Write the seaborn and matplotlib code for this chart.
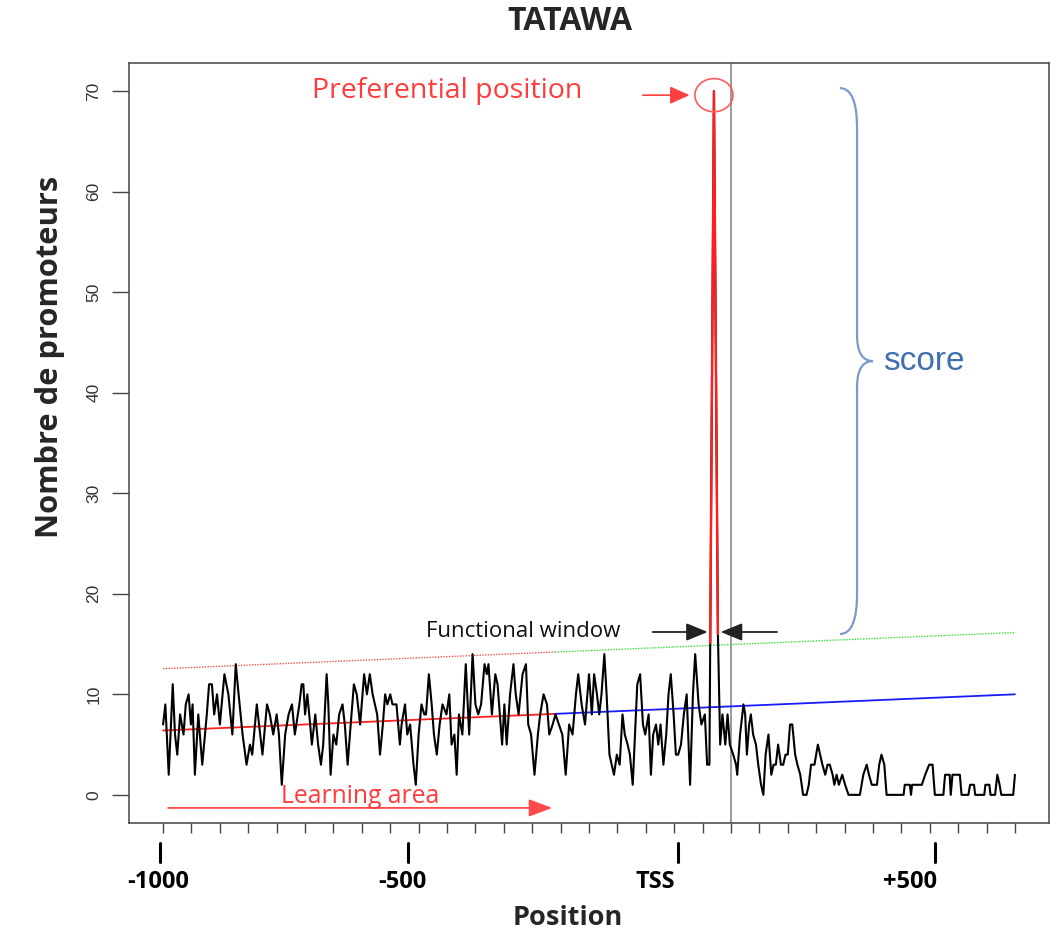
import numpy as np
import pandas as pd
import matplotlib
matplotlib.use("Agg")
import matplotlib.pyplot as plt
import seaborn as sns
from matplotlib import transforms
from matplotlib.patches import Ellipse, Rectangle, PathPatch
from matplotlib.path import Path

# Promoter counts per position (relative to the TSS)
positions = [
    -1000, -996, -990, -983, -979, -975, -970, -964, -960, -955, -951, -948, -944, -938, -931,
    -923, -919, -914, -910, -905, -900, -892, -885, -878, -872, -867, -860, -853, -847, -843,
    -835, -829, -825, -817, -812, -806, -800, -796, -791, -785, -779, -773, -768, -760, -756,
    -753, -750, -746, -741, -738, -732, -727, -722, -718, -712, -709, -705, -700, -695, -690,
    -684, -680, -675, -671, -664, -659, -653, -646, -641, -636, -631, -627, -623, -618, -613,
    -609, -605, -600, -596, -589, -583, -580, -574, -570, -565, -559, -555, -550, -545, -540,
    -537, -532, -527, -523, -518, -513, -508, -501, -496,
    -492, -487, -483, -479, -473, -467, -461, -455, -450, -445, -440, -434, -430, -427, -421,
    -415, -411, -407, -403, -399, -395, -389, -383, -379, -374, -367, -361, -357, -352, -346,
    -340, -336, -330, -324, -320, -314, -309, -303, -297, -291, -285, -279, -273, -269, -263,
    -257, -250, -245, -241,
    -236, -232, -228, -223, -219, -214, -210, -206, -201, -196, -191, -187, -182, -178, -173,
    -169, -165, -160, -155, -151, -145, -141, -137, -132, -128, -124, -119, -114, -110, -106,
    -101, -97, -93, -88, -83, -78, -72, -67, -63, -57, -52, -46, -42, -38, -30,
    -23, -19, -15, -10, -6, -2, 4, 9, 11,
    16, 22, 25, 28, 32, 35, 39, 44, 48, 53, 57, 61, 66, 71, 75,
    79, 83, 88, 92, 96, 100, 104, 108, 113, 117, 122, 127, 133, 137, 141,
    147, 153, 157, 161, 166, 170, 174, 179, 182, 186, 190, 196, 201, 207, 213,
    221, 227, 233, 239, 243, 248, 252, 257, 261, 265, 270,
    274, 304, 306, 315, 317, 319, 336, 342, 349, 355, 359, 374, 377, 385, 387,
    390, 403, 406, 418, 421, 428, 430, 446, 448, 455, 457, 465, 467, 469, 473,
    476, 497, 500,
]
counts = [
    7, 9, 2, 11, 6, 4, 8, 6, 9, 10, 7, 9, 2, 8, 3,
    8, 11, 11, 8, 10, 7, 12, 10, 6, 13, 10, 6, 3, 5, 4,
    9, 6, 4, 9, 8, 6, 8, 6, 1, 6, 8, 9, 6, 9, 11,
    11, 8, 10, 7, 5, 8, 5, 3, 5, 12, 9, 2, 6, 5, 8,
    9, 7, 3, 6, 11, 10, 7, 12, 10, 12, 10, 9, 8, 4, 7,
    10, 9, 10, 9, 9, 5, 7, 9, 6, 7, 3, 1, 6, 9, 8,
    8, 12, 9, 6, 4, 7, 9, 8, 10,
    5, 6, 2, 8, 6, 13, 6, 14, 9, 8, 9, 13, 12, 13, 8,
    12, 11, 8, 5, 9, 5, 10, 13, 10, 8, 12, 13, 7, 6, 2,
    6, 8, 10, 9, 6, 7, 8, 7, 6, 2, 7, 6, 10, 12, 9,
    7, 12, 8, 12,
    10, 8, 10, 14, 10, 4, 3, 2, 4, 3, 8, 6, 5, 4, 1,
    6, 11, 12, 7, 6, 8, 2, 6, 7, 5, 7, 3, 6, 10, 12,
    8, 4, 4, 5, 8, 10, 1, 10, 14, 9, 7, 8, 3, 3, 70,
    16, 5, 8, 5, 8, 5, 4, 3, 2,
    6, 9, 8, 4, 7, 8, 6, 5, 3, 1, 0, 4, 6, 2, 3,
    3, 5, 3, 3, 4, 4, 7, 7, 4, 3, 2, 0, 0, 1, 3,
    3, 5, 4, 3, 2, 3, 3, 2, 1, 2, 1, 2, 1, 0, 0,
    0, 0, 2, 3, 2, 1, 1, 1, 3, 4, 3,
    0, 0, 1, 1, 0, 1, 1, 2, 3, 3, 0, 0, 2, 2, 0,
    2, 2, 0, 0, 1, 1, 0, 0, 1, 1, 0, 0, 1, 2, 1,
    0, 0, 2,
]

peak_pos, peak_val = -30, 70          # preferential position
learning_end = -310                   # end of the learning area
trend_start, trend_end = 6.4, 10.0    # fitted background at -1000 and +500
band_offset = 6.15                    # threshold above the fitted background
window = (-36, -23)                   # functional window around the peak
score_low = 16.0                      # lower end of the score brace

mark_pos = [-1005, -569, -93, 359]
mark_label_pos = [-1009, -579, -134, 315]
mark_labels = ["-1000", "-500", "TSS", "+500"]

sns.set_theme(style="white")
plt.rcParams["font.family"] = ["Open Sans", "DejaVu Sans"]

fig = plt.figure(figsize=(10.56, 9.32), dpi=100)
W, H = 1056, 932
ax = fig.add_axes([129 / W, (H - 823) / H, (1049 - 129) / W, (823 - 63) / H])

df = pd.DataFrame({"Position": positions, "Count": counts})
sns.lineplot(data=df, x="Position", y="Count", ax=ax, color="black",
             lw=1.5, estimator=None, sort=False, zorder=3)

# the peak highlighted in red above the threshold
i = positions.index(peak_pos)
peak_df = df.iloc[i - 1:i + 2]
red_line, = ax.plot(peak_df["Position"], peak_df["Count"], color="#ff1f1f", lw=1.7, zorder=4)
clip = Rectangle((-1100, 15), 1800, 100, transform=ax.transData)
red_line.set_clip_path(clip)

# fitted background and threshold lines
def trend(x):
    return trend_start + (trend_end - trend_start) * (np.asarray(x) + 1000) / 1500.0

xa = np.array([-1000, learning_end])
xb = np.array([learning_end, 500])
ax.plot(xa, trend(xa), color="#ff2020", lw=1.3, zorder=2)
ax.plot(xb, trend(xb), color="#1a1aff", lw=1.3, zorder=2)
ax.plot(xa, trend(xa) + band_offset, color="#ff5050", lw=1.0, ls=(0, (1, 1)), zorder=2)
ax.plot(xb, trend(xb) + band_offset, color="#33e633", lw=1.0, ls=(0, (1, 1)), zorder=2)

ax.axvline(0, color="#8a8a8a", lw=1.2, zorder=1)

ax.set_xlim(-1060, 560)
ax.set_ylim(-2.8, 72.8)
ax.set_xticks(np.arange(-1000, 501, 50))
ax.set_xticklabels([])
ax.set_yticks(np.arange(0, 71, 10))
ax.set_yticklabels([str(v) for v in range(0, 71, 10)], rotation=90, va="center",
                   fontsize=12.5, color="#333333", family="Liberation Sans")
ax.tick_params(axis="x", bottom=True, length=7, width=1, color="#444444", direction="out")
ax.tick_params(axis="y", left=True, length=12, width=1, color="#444444", direction="out", pad=8)
ax.set_xlabel("")
ax.set_ylabel("")
for s in ax.spines.values():
    s.set_color("#444444")
    s.set_linewidth(1.1)

# preferential position annotation
ax.add_patch(Ellipse((peak_pos, peak_val - 0.4), 67, 3.3, fill=False,
                     ec="#ff5a5a", lw=1.2, zorder=5))
ax.annotate("", xy=(peak_pos - 38, peak_val - 0.4), xytext=(peak_pos - 130, peak_val - 0.4),
            arrowprops=dict(arrowstyle="-|>,head_length=1.0,head_width=0.45",
                            color="#ff4040", lw=1.2))
ax.text(-262, peak_val, "Preferential position", color="#ff3c3c", fontsize=20.5,
        ha="right", va="center")

# functional window
yw = 16.2
ax.annotate("", xy=(window[0], yw), xytext=(window[0] - 107, yw),
            arrowprops=dict(arrowstyle="-|>,head_length=1.1,head_width=0.45",
                            color="#222222", lw=1.3))
ax.annotate("", xy=(window[1], yw), xytext=(window[1] + 109, yw),
            arrowprops=dict(arrowstyle="-|>,head_length=1.1,head_width=0.45",
                            color="#222222", lw=1.3))
ax.text(-195, yw, "Functional window", color="#111111", fontsize=16,
        ha="right", va="center")

# learning area
ax.annotate("", xy=(learning_end, -1.3), xytext=(-996, -1.3),
            arrowprops=dict(arrowstyle="-|>,head_length=1.2,head_width=0.45",
                            color="#ff4a4a", lw=1.3))
ax.text(-792, -0.2, "Learning area", color="#ff3c3c", fontsize=17.8, ha="left", va="center")

# score brace
bx0, bxs, bxt = 192, 222, 250
ymid = (peak_val + 0.3 + score_low) / 2
verts = [(bx0, peak_val + 0.3), (bxs, peak_val + 0.3), (bxs, peak_val - 3.7),
         (bxs, ymid + 2.6), (bxs, ymid), (bxt, ymid),
         (bxs, ymid), (bxs, ymid - 2.6),
         (bxs, score_low + 4.0), (bxs, score_low), (bx0, score_low)]
codes = [Path.MOVETO, Path.CURVE3, Path.CURVE3,
         Path.LINETO, Path.CURVE3, Path.CURVE3,
         Path.CURVE3, Path.CURVE3,
         Path.LINETO, Path.CURVE3, Path.CURVE3]
ax.add_patch(PathPatch(Path(verts, codes), fill=False, ec="#7b9acb", lw=1.6, zorder=5))
ax.text(268, ymid, "score", color="#3f6fb0", fontsize=24, ha="left", va="center",
        family="Liberation Sans")

# position marks below the axis
blend = transforms.blended_transform_factory(ax.transData, ax.transAxes)
for p in mark_pos:
    ax.plot([p, p], [-0.0263, -0.0513], transform=blend, clip_on=False,
            color="black", lw=2.2)
for p, lab in zip(mark_label_pos, mark_labels):
    ax.text(p, -0.0775, lab, transform=blend, ha="center", va="center",
            fontsize=17, fontweight="bold", color="black")

fig.text(570 / W, 1 - 22 / H, "TATAWA", ha="center", va="center",
         fontsize=23, fontweight="bold")
fig.text(568 / W, 1 - 918 / H, "Position", ha="center", va="center",
         fontsize=19.5, fontweight="bold")
fig.text(50 / W, 1 - 357 / H, "Nombre de promoteurs", ha="center", va="center",
         rotation=90, fontsize=22.2, fontweight="bold")

fig.savefig("out.png", dpi=100, facecolor="white")
